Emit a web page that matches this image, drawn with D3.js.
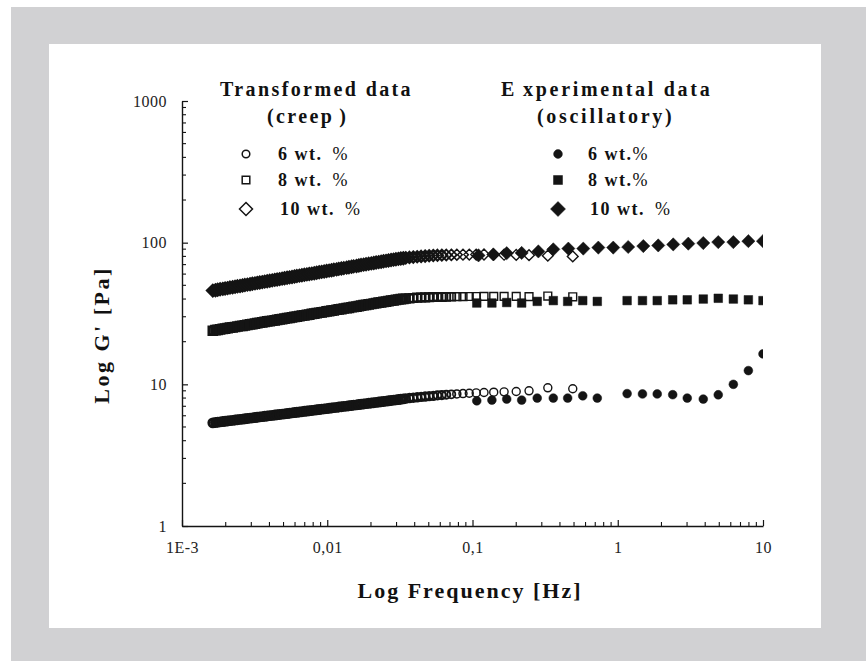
<!DOCTYPE html>
<html><head><meta charset="utf-8">
<script src="https://cdn.jsdelivr.net/npm/d3@7"></script>
<style>body{margin:0;background:#fff}</style>
</head><body><svg id="c" width="866" height="661"></svg>
<script>
// ---- data ----
const creepFreq = [0.00163,0.00170,0.00176,0.00183,0.00191,0.00198,0.00206,0.00214,0.00223,0.00232,
0.00241,0.00251,0.00261,0.00271,0.00282,0.00294,0.00305,0.00318,0.00330,0.00343,
0.00357,0.00371,0.00386,0.00402,0.00418,0.00435,0.00452,0.00470,0.00489,0.00508,
0.00529,0.00550,0.00572,0.00595,0.00618,0.00643,0.00669,0.00696,0.00724,0.00752,
0.00783,0.00814,0.00846,0.00880,0.00915,0.00952,0.00990,0.0103,0.0107,0.0111,
0.0116,0.0120,0.0125,0.0130,0.0136,0.0141,0.0147,0.0152,0.0159,0.0165,
0.0171,0.0178,0.0185,0.0193,0.0201,0.0209,0.0217,0.0226,0.0235,0.0244,
0.0254,0.0264,0.0275,0.0286,0.0297,0.0309,0.0321,0.0334,0.0347,
0.0368,0.0391,0.0416,0.0443,0.0472,0.0503,0.0537,0.0574,0.0615,0.0660,
0.0715,0.0780,0.0860,0.0950,0.106,0.120,0.140,0.165,0.200,0.245,0.330,0.490];

const creep6 = [5.35,5.38,5.40,5.43,5.46,5.49,5.51,5.54,5.57,5.60,
5.63,5.66,5.68,5.71,5.74,5.77,5.80,5.83,5.86,5.89,
5.92,5.95,5.98,6.01,6.04,6.07,6.10,6.13,6.16,6.19,
6.22,6.25,6.29,6.32,6.35,6.38,6.41,6.45,6.48,6.51,
6.54,6.58,6.61,6.64,6.68,6.71,6.74,6.78,6.81,6.85,
6.88,6.92,6.95,6.99,7.02,7.06,7.09,7.13,7.16,7.20,
7.24,7.27,7.31,7.35,7.39,7.42,7.46,7.50,7.54,7.57,
7.61,7.65,7.69,7.73,7.77,7.81,7.85,7.89,7.93,
8.00,8.05,8.10,8.15,8.20,8.25,8.30,8.35,8.40,8.45,
8.50,8.55,8.60,8.65,8.70,8.75,8.80,8.85,8.90,9.00,9.45,9.30];

const creep8 = [23.9,24.1,24.2,24.4,24.6,24.7,24.9,25.1,25.2,25.4,
25.6,25.8,25.9,26.1,26.3,26.5,26.6,26.8,27.0,27.2,
27.4,27.6,27.8,27.9,28.1,28.3,28.5,28.7,28.9,29.1,
29.3,29.5,29.7,29.9,30.1,30.3,30.5,30.7,30.9,31.1,
31.4,31.6,31.8,32.0,32.2,32.4,32.7,32.9,33.1,33.3,
33.6,33.8,34.0,34.3,34.5,34.7,35.0,35.2,35.4,35.7,
35.9,36.2,36.4,36.7,36.9,37.2,37.4,37.7,37.9,38.2,
38.4,38.7,38.95,39.2,39.45,39.7,39.9,40.1,40.3,
40.5,40.7,40.9,41.0,41.1,41.2,41.3,41.4,41.4,41.5,
41.5,41.6,41.6,41.7,41.7,41.8,41.8,41.8,41.8,41.6,42.0,41.5];

const creep10 = [45.9,46.2,46.5,46.9,47.2,47.5,47.8,48.2,48.5,48.8,
49.2,49.5,49.9,50.2,50.6,50.9,51.3,51.6,52.0,52.3,
52.7,53.1,53.4,53.8,54.2,54.6,54.9,55.3,55.7,56.1,
56.5,56.9,57.3,57.7,58.1,58.5,58.9,59.3,59.7,60.1,
60.5,60.9,61.4,61.8,62.2,62.6,63.1,63.5,63.9,64.4,
64.8,65.3,65.7,66.2,66.7,67.1,67.6,68.1,68.5,69.0,
69.5,70.0,70.4,70.9,71.4,71.9,72.4,72.9,73.4,73.9,
74.4,74.9,75.4,75.9,76.4,76.9,77.3,77.7,78.1,
78.6,79.1,79.6,80.0,80.4,80.8,81.1,81.4,81.6,81.8,
82.0,82.2,82.3,82.4,82.4,82.5,82.4,82.2,82.0,81.6,81.0,80.0];

const oscFreq = [0.107,0.136,0.172,0.218,0.279,0.360,0.452,0.574,0.723,
1.16,1.48,1.87,2.39,3.01,3.88,4.92,6.25,7.93,10];
const osc6 = [7.65,7.74,7.87,7.74,8.0,8.0,8.0,8.3,8.0,
8.6,8.55,8.55,8.45,8.0,7.87,8.44,10.0,12.5,16.4];
const osc8 = [37.5,37.5,37.8,37.5,38.5,39.0,38.5,39.0,38.5,
39.0,39.0,39.0,39.5,39.5,40.0,40.5,40.0,39.5,39.0];
const oscFreq10 = [0.110,0.139,0.172,0.218,0.284,0.360,0.457,0.579,0.735,0.931,
1.18,1.50,1.90,2.41,3.06,3.88,4.92,6.25,7.93,10];
const osc10 = [81.3,82.6,84.3,84.6,86.7,89.7,90.8,90.8,92.3,92.3,
93.2,94.6,95.6,97.2,98.4,99.4,100.9,100.9,102.5,102.5];

const xTickValues = [0.001,0.01,0.1,1,10];
const xTickLabels = ["1E-3","0,01","0,1","1","10"];
const yTickValues = [1,10,100,1000];
const yTickLabels = ["1","10","100","1000"];
const legendLeftLabels = ["6 wt. ","8 wt. ","10 wt. "];
const legendRightLabels = ["6 wt.","8 wt.","10 wt. "];

// ---- drawing ----
const svg = d3.select("#c");
const ink = "#141414";
svg.append("rect").attr("x",11).attr("y",7).attr("width",855).attr("height",654).attr("fill","#d1d1d3");
svg.append("rect").attr("x",49).attr("y",44).attr("width",772).attr("height",584).attr("fill","#fff");

const x = d3.scaleLog().domain([0.001,10]).range([182,763]);
const y = d3.scaleLog().domain([1,1000]).range([526,101]);

svg.append("defs").append("clipPath").attr("id","pc")
  .append("rect").attr("x",170).attr("y",90).attr("width",593).attr("height",445);

function shapePath(type, s){
  if(type==="circle") return `M${s},0A${s},${s},0,1,1,${-s},0A${s},${s},0,1,1,${s},0Z`;
  if(type==="square") return `M${-s},${-s}H${s}V${s}H${-s}Z`;
  return `M0,${-s}L${s},0L0,${s}L${-s},0Z`;
}

// axes
const yAxis = d3.axisLeft(y).tickValues(yTickValues)
  .tickFormat((d,i)=>yTickLabels[i]).tickSizeInner(-6).tickSizeOuter(0).tickPadding(15);
const gy = svg.append("g").attr("transform","translate(182,0)").call(yAxis);
const xAxis = d3.axisBottom(x).tickValues(xTickValues)
  .tickFormat((d,i)=>xTickLabels[i]).tickSizeInner(-6).tickSizeOuter(0).tickPadding(16);
const gx = svg.append("g").attr("transform","translate(0,526)").call(xAxis);
[gx,gy].forEach(g=>{
  g.select(".domain").attr("stroke",ink).attr("stroke-width",1.4);
  g.selectAll(".tick line").attr("stroke",ink).attr("stroke-width",1.2);
  g.selectAll(".tick text").attr("font-family","'Liberation Serif',serif")
    .attr("font-size",16).attr("fill","#222").attr("letter-spacing",0.5);
});
const minorX = [], minorY = [];
[0.001,0.01,0.1,1].forEach(d=>{for(let k=2;k<=9;k++) minorX.push(d*k);});
[1,10,100].forEach(d=>{for(let k=2;k<=9;k++) minorY.push(d*k);});
svg.append("g").selectAll("line").data(minorX).join("line")
  .attr("x1",d=>x(d)).attr("x2",d=>x(d)).attr("y1",526).attr("y2",522)
  .attr("stroke",ink).attr("stroke-width",1.1);
svg.append("g").selectAll("line").data(minorY).join("line")
  .attr("y1",d=>y(d)).attr("y2",d=>y(d)).attr("x1",182).attr("x2",186)
  .attr("stroke",ink).attr("stroke-width",1.1);

// axis titles
svg.append("text").attr("x",470).attr("y",598).attr("text-anchor","middle")
  .attr("font-family","'Liberation Serif',serif").attr("font-weight","bold")
  .attr("font-size",22).attr("letter-spacing",2).attr("fill","#111")
  .text("Log Frequency [Hz]");
svg.append("text").attr("transform","translate(109,335) rotate(-90)").attr("text-anchor","middle")
  .attr("font-family","'Liberation Serif',serif").attr("font-weight","bold")
  .attr("font-size",22).attr("letter-spacing",2.5).attr("fill","#111")
  .text("Log G' [Pa]");

// data
const plot = svg.append("g").attr("clip-path","url(#pc)");
const swScale = d3.scaleLinear().domain([2.6,6.5]).range([2.9,1.4]).clamp(true);
function drawSeries(freqs, vals, type, size, filled){
  const pts = freqs.map((f,i)=>[f,vals[i]]);
  plot.append("g").selectAll("path").data(pts).join("path")
    .attr("transform",d=>`translate(${x(d[0])},${y(d[1])})`)
    .attr("d",shapePath(type,size))
    .attr("fill",filled?ink:"none").attr("stroke",ink)
    .attr("stroke-width",(d,i)=>{
      if(filled) return 0.5;
      const nb = i<pts.length-1 ? x(pts[i+1][0])-x(d[0]) : 99;
      return swScale(nb);
    });
}
drawSeries(creepFreq, creep6, "circle", 4.0, false);
drawSeries(creepFreq, creep8, "square", 3.9, false);
drawSeries(creepFreq, creep10, "diamond", 5.4, false);
drawSeries(oscFreq, osc6, "circle", 4.4, true);
drawSeries(oscFreq, osc8, "square", 4.3, true);
drawSeries(oscFreq10, osc10, "diamond", 6.6, true);

// legend
const txt = (sel)=>sel.attr("font-family","'Liberation Serif',serif").attr("font-weight","bold").attr("fill","#111");
txt(svg.append("text").attr("x",220).attr("y",96).attr("font-size",20).attr("letter-spacing",2.4)).text("Transformed data");
const cr = txt(svg.append("text").attr("x",267).attr("y",123).attr("font-size",20).attr("letter-spacing",2.4));
cr.append("tspan").text("(creep");
cr.append("tspan").attr("dx",5).text(")");
const ex = txt(svg.append("text").attr("x",501).attr("y",96).attr("font-size",20).attr("letter-spacing",2.7));
ex.append("tspan").text("E");
ex.append("tspan").attr("dx",6).text("xperimental data");
txt(svg.append("text").attr("x",537).attr("y",123).attr("font-size",20).attr("letter-spacing",2.7)).text("(oscillatory)");

const rowsY = [154,180,209];
const legL = [["circle",3.8],["square",3.8],["diamond",6.5]];
const legR = [["circle",4.4],["square",4.5],["diamond",7.5]];
rowsY.forEach((ry,i)=>{
  svg.append("path").attr("transform",`translate(246,${ry})`).attr("d",shapePath(legL[i][0],legL[i][1]))
    .attr("fill","none").attr("stroke",ink).attr("stroke-width",1.5);
  svg.append("path").attr("transform",`translate(558,${ry})`).attr("d",shapePath(legR[i][0],legR[i][1]))
    .attr("fill",ink).attr("stroke",ink).attr("stroke-width",0.5);
  const t1 = txt(svg.append("text").attr("x",i==2?280:278).attr("y",ry+6).attr("font-size",18).attr("letter-spacing",1.5));
  t1.append("tspan").text(legendLeftLabels[i]);
  t1.append("tspan").attr("font-weight","normal").attr("dx",4).text("%");
  const t2 = txt(svg.append("text").attr("x",i==2?590:588).attr("y",ry+6).attr("font-size",18).attr("letter-spacing",1.5));
  t2.append("tspan").text(legendRightLabels[i]);
  t2.append("tspan").attr("font-weight","normal").attr("dx",i==2?4:0).text("%");
});
</script></body></html>
